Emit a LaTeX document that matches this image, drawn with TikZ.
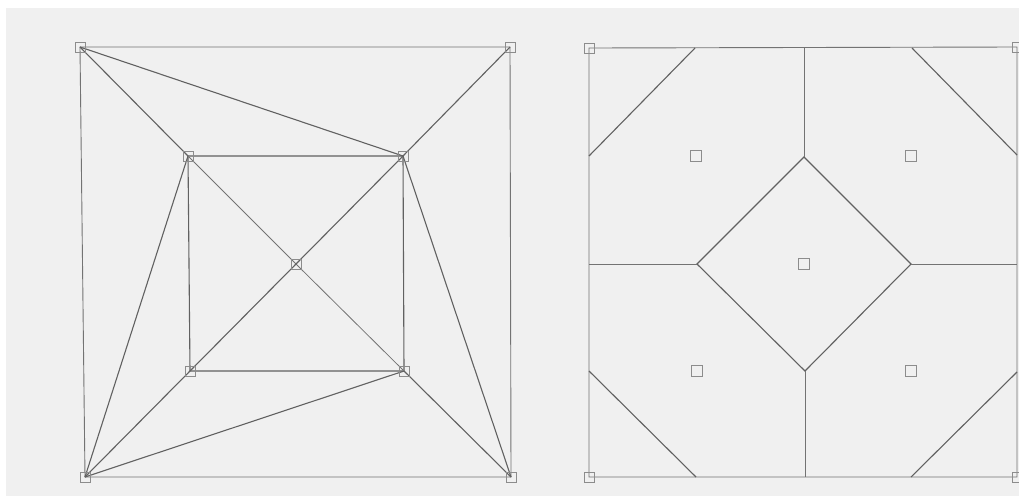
\documentclass[tikz,border=0pt]{standalone}
\begin{document}
\begin{tikzpicture}[x=1pt,y=-1pt,
  edge/.style={draw=black!62,line width=1.1pt},
  thin edge/.style={draw=black!55,line width=0.8pt},
  mk/.style={draw=black!45,line width=0.9pt,rectangle,minimum size=10pt,inner sep=0pt,fill=none},
  site/.style={draw=black!45,line width=0.9pt,rectangle,minimum size=11pt,inner sep=0pt},
  frame/.style={draw=black!55,line width=0.9pt}]
\fill[white] (0,0) rectangle (1019,496);
\fill[black!6] (6,8) rectangle (1019,496);
\useasboundingbox (0,0) rectangle (1019,496);
% ---------- left: Delaunay triangulation ----------
\coordinate (TL) at (80,47);
\coordinate (TR) at (510,47);
\coordinate (BL) at (85,477);
\coordinate (BR) at (511,477);
\coordinate (iTL) at (188,156);
\coordinate (iTR) at (403,156);
\coordinate (iBL) at (190,371);
\coordinate (iBR) at (404,371);
\coordinate (C) at (296,264);
\draw[frame] (TL) -- (TR) -- (BR) -- (BL) -- cycle;
\draw[edge] (iTL) -- (iTR) -- (iBR) -- (iBL) -- cycle;
\draw[edge] (TL) -- (iTL);
\draw[edge] (TL) -- (iTR);
\draw[edge] (TR) -- (iTR);
\draw[edge] (BL) -- (iTL);
\draw[edge] (BL) -- (iBL);
\draw[edge] (BL) -- (iBR);
\draw[edge] (BR) -- (iBR);
\draw[edge] (BR) -- (iTR);
\draw[thin edge] (iTL) -- (C) -- (iBR);
\draw[edge] (iTR) -- (C) -- (iBL);
\foreach \p in {TL,TR,BL,BR,iTL,iTR,iBL,iBR,C}
  \node[mk] (m\p) at (\p) {};
% ---------- right: Voronoi diagram ----------
\coordinate (RTL) at (589,48);
\coordinate (RTR) at (1017,47);
\coordinate (RBL) at (589,477);
\coordinate (RBR) at (1017,477);
\draw[frame] (RTL) -- (RTR) -- (RBR) -- (RBL) -- cycle;
\coordinate (dT) at (804,157);
\coordinate (dR) at (911,264);
\coordinate (dB) at (805,371);
\coordinate (dL) at (697,264);
\draw[edge] (dT) -- (dR) -- (dB) -- (dL) -- cycle;
\coordinate (vT) at (804,48);
\coordinate (vB) at (805,477);
\coordinate (hL) at (589,264);
\coordinate (hR) at (1017,264);
\draw[thin edge] (vT) -- (dT);
\draw[thin edge] (dB) -- (vB);
\draw[thin edge] (hL) -- (dL);
\draw[thin edge] (dR) -- (hR);
\coordinate (a1) at (695,48);  \coordinate (a2) at (589,156);
\coordinate (b1) at (912,48);  \coordinate (b2) at (1017,155);
\coordinate (c1) at (589,371); \coordinate (c2) at (696,477);
\coordinate (e1) at (911,477); \coordinate (e2) at (1017,372);
\draw[edge] (a1) -- (a2);
\draw[edge] (b1) -- (b2);
\draw[edge] (c1) -- (c2);
\draw[edge] (e1) -- (e2);
\node[site] (s1) at (696,156) {};
\node[site] (s2) at (911,156) {};
\node[site] (s3) at (804,264) {};
\node[site] (s4) at (697,371) {};
\node[site] (s5) at (911,371) {};
\node[mk] (r1) at (RTL) {};
\node[mk] (r2) at (RTR) {};
\node[mk] (r3) at (RBL) {};
\node[mk] (r4) at (RBR) {};
\end{tikzpicture}
\end{document}
